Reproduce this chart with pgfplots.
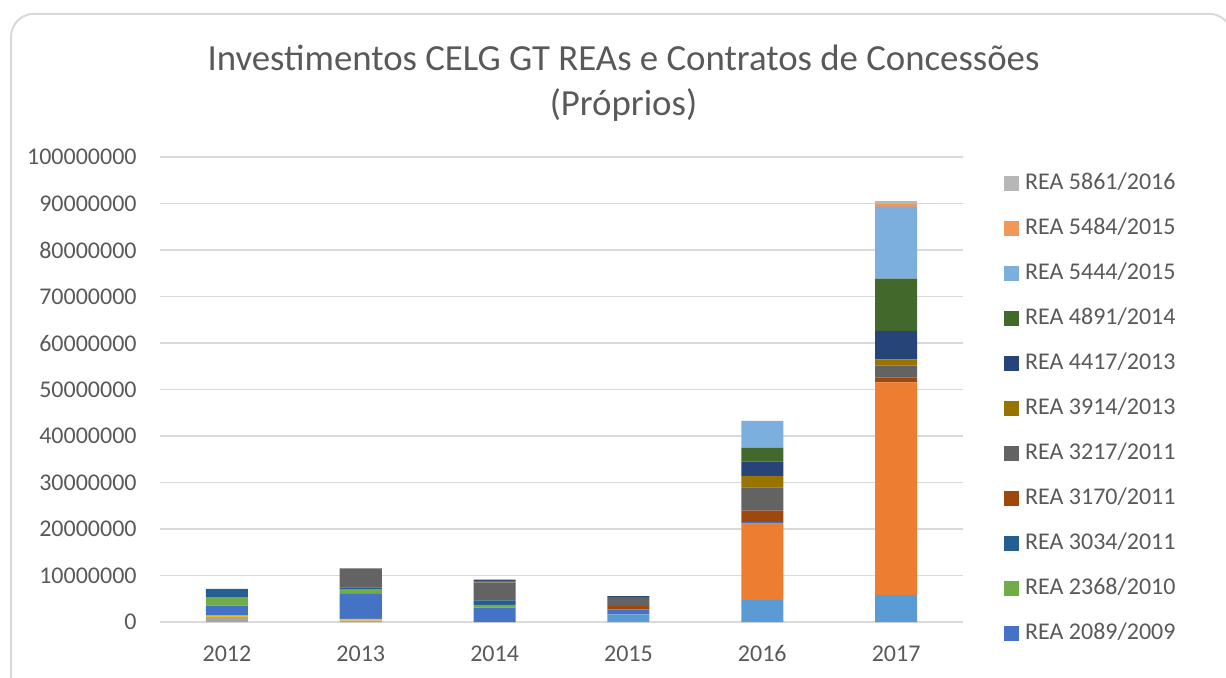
\documentclass[border=0pt]{standalone}
\usepackage{pgfplots}
\pgfplotsset{compat=1.18}
\usepackage{pgfplotstable}
\usepackage{fontspec}
\setmainfont{Carlito}
\definecolor{c1}{HTML}{5B9BD5}
\definecolor{c2}{HTML}{ED7D31}
\definecolor{c3}{HTML}{A5A5A5}
\definecolor{c4}{HTML}{FFC000}
\definecolor{c5}{HTML}{4472C4}
\definecolor{c6}{HTML}{70AD47}
\definecolor{c7}{HTML}{255E91}
\definecolor{c8}{HTML}{9E480E}
\definecolor{c9}{HTML}{636363}
\definecolor{c10}{HTML}{997300}
\definecolor{c11}{HTML}{264478}
\definecolor{c12}{HTML}{43682B}
\definecolor{c13}{HTML}{7CAFDD}
\definecolor{c14}{HTML}{F1975A}
\definecolor{c15}{HTML}{B7B7B7}
\definecolor{txt}{HTML}{595959}
\definecolor{grd}{HTML}{D9D9D9}

\pgfplotstableread{
x s1 s2 s3 s4 s5 s6 s7 s8 s9 s10 s11 s12 s13 s14 s15
0 0 0 1080000 280000 2150000 1720000 1870000 0 0 0 0 0 0 0 0
1 0 0 300000 350000 5380000 930000 500000 0 4090000 0 0 0 0 0 0
2 0 0 0 0 3080000 580000 970000 0 3870000 340000 300000 0 0 0 0
3 1660000 0 0 0 1080000 0 0 710000 1940000 0 200000 0 0 0 0
4 4730000 16410000 0 0 370000 0 0 2430000 5030000 2430000 3080000 3010000 5740000 0 0
5 5810000 45740000 0 0 0 0 0 1080000 2490000 1380000 6090000 11250000 15480000 580000 710000
}\data

\begin{document}
\begin{tikzpicture}[x=1pt,y=1pt]
\useasboundingbox (0,0) rectangle (613,338.5);
\clip (0,0) rectangle (613,338.5);
\draw[grd, line width=1pt, rounded corners=11.5pt] (5.5,-20) rectangle (616,331.6);
\node[anchor=base, font=\fontsize{18.4}{21.5}\selectfont, text=txt] at (311.75,303.5) {Investimentos CELG GT REAs e Contratos de Concessões};
\node[anchor=base, font=\fontsize{18.4}{21.5}\selectfont, text=txt] at (311.75,281) {(Próprios)};
\begin{axis}[
  at={(80pt,27.5pt)}, anchor=south west,
  scale only axis, width=401.5pt, height=232.5pt,
  ybar stacked, bar width=21pt,
  xmin=-0.5, xmax=5.5, ymin=0, ymax=100000000,
  xtick={0,1,2,3,4,5},
  xticklabels={2012,2013,2014,2015,2016,2017},
  ytick={0,10000000,20000000,30000000,40000000,50000000,60000000,70000000,80000000,90000000,100000000},
  yticklabels={0,10000000,20000000,30000000,40000000,50000000,60000000,70000000,80000000,90000000,100000000},
  scaled y ticks=false,
  major tick length=0pt,
  axis line style={draw=none},
  ymajorgrids, grid style={grd, line width=0.75pt},
  tick label style={font=\fontsize{12}{14}\selectfont, text=txt},
  yticklabel style={anchor=east, inner sep=0pt, xshift=-11.5pt},
  xticklabel style={anchor=north, inner sep=0pt, text height=8pt, text depth=0pt, yshift=-11.5pt},
  reverse legend,
  legend style={at={(1.0435,0.9766)}, anchor=north west, draw=none, fill=none,
    font=\fontsize{12}{14}\selectfont, text=txt,
    nodes={inner sep=0pt, text height=8.5pt, text depth=2.5pt},
    row sep=11.5pt, column sep=3pt},
  every axis plot post/.append style={draw=none,
    legend image code/.code={\fill[##1,draw=none] (0pt,-3.7pt) rectangle (7.4pt,3.7pt);}},
]
\addplot[fill=c1, forget plot] table[x=x,y=s1]{\data};
\addplot[fill=c2, forget plot] table[x=x,y=s2]{\data};
\addplot[fill=c3, forget plot] table[x=x,y=s3]{\data};
\addplot[fill=c4, forget plot] table[x=x,y=s4]{\data};
\addplot[fill=c5] table[x=x,y=s5]{\data};
\addlegendentry{REA 2089/2009}
\addplot[fill=c6] table[x=x,y=s6]{\data};
\addlegendentry{REA 2368/2010}
\addplot[fill=c7] table[x=x,y=s7]{\data};
\addlegendentry{REA 3034/2011}
\addplot[fill=c8] table[x=x,y=s8]{\data};
\addlegendentry{REA 3170/2011}
\addplot[fill=c9] table[x=x,y=s9]{\data};
\addlegendentry{REA 3217/2011}
\addplot[fill=c10] table[x=x,y=s10]{\data};
\addlegendentry{REA 3914/2013}
\addplot[fill=c11] table[x=x,y=s11]{\data};
\addlegendentry{REA 4417/2013}
\addplot[fill=c12] table[x=x,y=s12]{\data};
\addlegendentry{REA 4891/2014}
\addplot[fill=c13] table[x=x,y=s13]{\data};
\addlegendentry{REA 5444/2015}
\addplot[fill=c14] table[x=x,y=s14]{\data};
\addlegendentry{REA 5484/2015}
\addplot[fill=c15] table[x=x,y=s15]{\data};
\addlegendentry{REA 5861/2016}
\end{axis}
\end{tikzpicture}
\end{document}
